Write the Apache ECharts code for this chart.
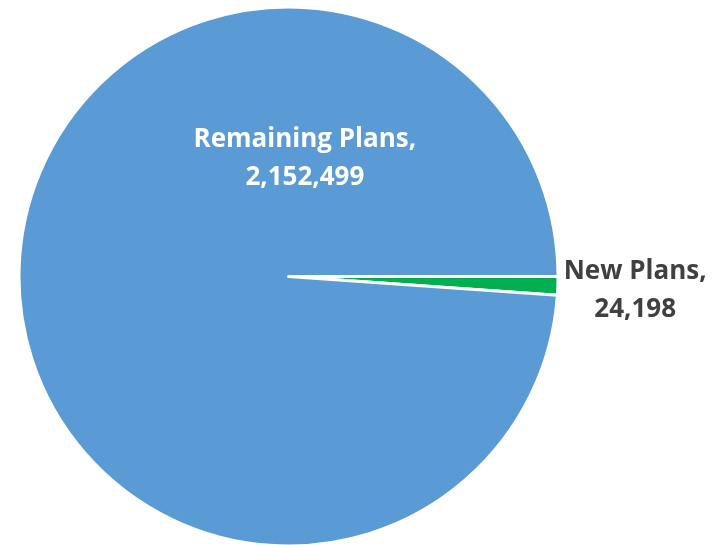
<!DOCTYPE html>
<html>
<head>
<meta charset="utf-8">
<script src="https://cdn.jsdelivr.net/npm/echarts@6/dist/echarts.min.js"></script>
<style>
  html, body { margin: 0; padding: 0; background: #fff; }
  #chart { width: 722px; height: 545px; }
</style>
</head>
<body>
<div id="chart"></div>
<script>
const categories = ['New Plans', 'Remaining Plans']
const values = [24198, 2152499]
const colors = ['#00B050', '#5B9BD5']

const chart = echarts.init(document.getElementById('chart'))

const fmt = (v) => v.toLocaleString('en-US')

const labelStyles = [
  { color: '#404040', offset: [209, 9] },
  { color: '#ffffff', offset: [154, -113] }
]

const data = categories.map((name, i) => ({
  name,
  value: values[i],
  itemStyle: { color: colors[i] },
  label: {
    color: labelStyles[i].color,
    offset: labelStyles[i].offset
  }
}))

chart.setOption({
  animation: false,
  series: [
    {
      type: 'pie',
      center: [288.5, 276.5],
      radius: [0, 269.5],
      startAngle: 0,
      clockwise: true,
      avoidLabelOverlap: false,
      itemStyle: {
        borderColor: '#ffffff',
        borderWidth: 3
      },
      label: {
        show: true,
        position: 'inside',
        fontFamily: 'Open Sans',
        fontWeight: 'bold',
        fontSize: 26,
        lineHeight: 38,
        align: 'center',
        formatter: (p) => `${p.name},\n${fmt(p.value)}`
      },
      labelLine: { show: false },
      emphasis: { disabled: true },
      data
    }
  ]
})
</script>
</body>
</html>
